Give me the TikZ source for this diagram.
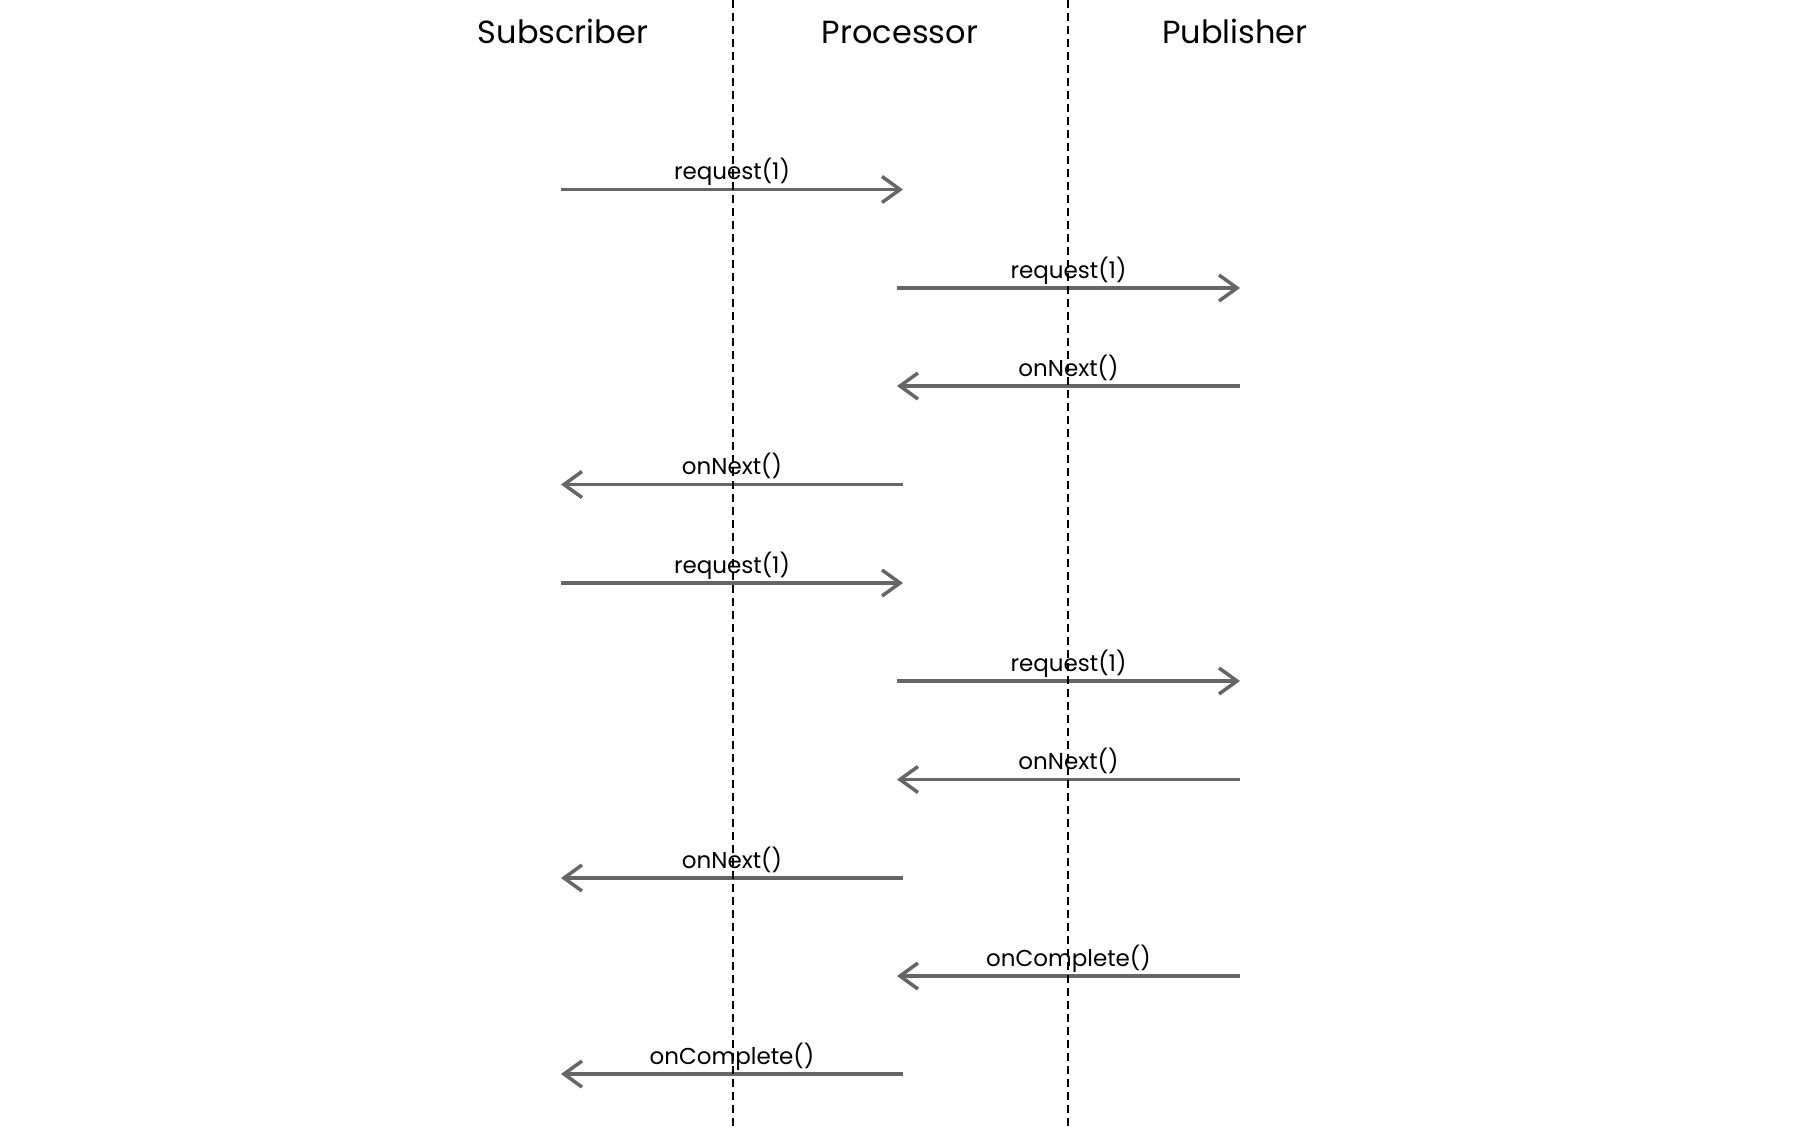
\documentclass[tikz,border=0pt]{standalone}
\usepackage{fontspec}
\setmainfont{Poppins}
\usetikzlibrary{arrows.meta}
\definecolor{msggray}{HTML}{666666}
\tikzset{
  head/.style={font=\fontsize{32}{36}\selectfont, anchor=base, inner sep=0pt},
  msg/.style={draw=msggray, line width=3.5pt, -{Straight Barb[length=18pt,width=26pt]}},
  lbl/.style={font=\fontsize{23}{26}\selectfont, anchor=base, inner sep=0pt, yshift=10pt, text=black},
  life/.style={draw=black, line width=1.8pt, dash pattern=on 8pt off 5pt}
}
\begin{document}
\begin{tikzpicture}[x=1pt,y=-1pt]
\useasboundingbox (0,0) rectangle (1800,1130);
\node[head] (hS) at (563,43) {Subscriber};
\node[head] (hP) at (900,43) {Processor};
\node[head] (hB) at (1235,43) {Publisher};
\coordinate (dA0) at (733,0);
\coordinate (dA1) at (733,1130);
\coordinate (dB0) at (1068,0);
\coordinate (dB1) at (1068,1130);
% row coordinates
\foreach \i/\y in {1/189.5,2/288,3/386,4/484.5,5/583,6/681,7/779.5,8/878,9/976,10/1074}{
  \coordinate (S\i) at (561,\y);
  \coordinate (Pl\i) at (903,\y);
  \coordinate (Pr\i) at (897,\y);
  \coordinate (B\i) at (1240,\y);
}
\draw[msg] (S1) -- (Pl1) node[lbl, pos=0.5] {request(1)};
\draw[msg] (Pr2) -- (B2) node[lbl, pos=0.5] {request(1)};
\draw[msg] (B3) -- (Pr3) node[lbl, pos=0.5] {onNext()};
\draw[msg] (Pl4) -- (S4) node[lbl, pos=0.5] {onNext()};
\draw[msg] (S5) -- (Pl5) node[lbl, pos=0.5] {request(1)};
\draw[msg] (Pr6) -- (B6) node[lbl, pos=0.5] {request(1)};
\draw[msg] (B7) -- (Pr7) node[lbl, pos=0.5] {onNext()};
\draw[msg] (Pl8) -- (S8) node[lbl, pos=0.5] {onNext()};
\draw[msg] (B9) -- (Pr9) node[lbl, pos=0.5] {onComplete()};
\draw[msg] (Pl10) -- (S10) node[lbl, pos=0.5] {onComplete()};
\draw[life] (dA0) -- (dA1);
\draw[life] (dB0) -- (dB1);
\end{tikzpicture}
\end{document}
